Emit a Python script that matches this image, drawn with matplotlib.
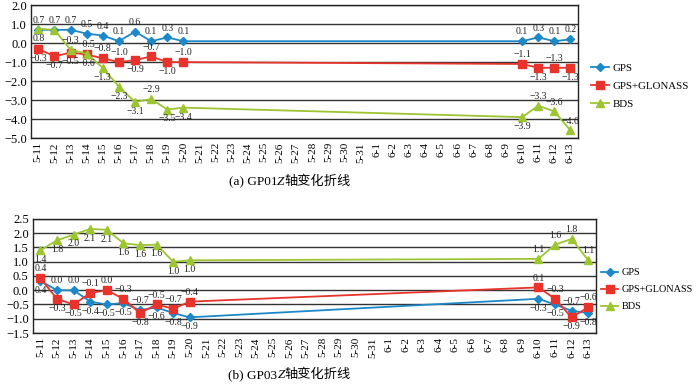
import matplotlib
matplotlib.use("Agg")
import matplotlib.pyplot as plt
from matplotlib.offsetbox import TextArea, HPacker, AnchoredOffsetbox
import numpy as np

plt.rcParams['font.family'] = ['Liberation Serif', 'Noto Sans CJK SC']

dates = ['5-%d' % d for d in range(11, 32)] + ['6-%d' % d for d in range(1, 14)]
N = None

# (a) GP01 Z
gps_a = [0.7, 0.7, 0.7, 0.5, 0.4, 0.1, 0.6, 0.1, 0.3, 0.1] + [N] * 20 + [0.1, 0.3, 0.1, 0.2]
glo_a = [-0.3, -0.7, -0.5, -0.6, -0.8, -1.0, -0.9, -0.7, -1.0, -1.0] + [N] * 20 + [-1.1, -1.3, -1.3, -1.3]
bds_a = [0.75, 0.7, -0.35, -0.55, -1.3, -2.3, -3.1, -2.95, -3.5, -3.4] + [N] * 20 + [-3.9, -3.3, -3.6, -4.6]
lab_bds_a = ['0.8', '', '−0.3', '−0.5', '−1.3', '−2.3', '−3.1', '−2.9', '−3.5', '−3.4',
             '−3.9', '−3.3', '−3.6', '−4.6']

# (b) GP03 Z
gps_b = [0.33, 0.0, 0.0, -0.4, -0.5, -0.45, -0.7, -0.6, -0.8, -0.95] + [N] * 20 + [-0.3, -0.5, -0.72, -0.8]
glo_b = [0.42, -0.3, -0.5, -0.1, 0.0, -0.3, -0.8, -0.5, -0.65, -0.4] + [N] * 20 + [0.1, -0.3, -0.95, -0.6]
bds_b = [1.4, 1.75, 1.95, 2.15, 2.12, 1.65, 1.58, 1.6, 1.0, 1.05] + [N] * 20 + [1.1, 1.6, 1.8, 1.05]
lab_gps_b = ['0.4', '0.0', '0.0', '−0.4', '−0.5', '−0.5', '−0.7', '−0.6', '−0.8', '−0.9',
             '−0.3', '−0.5', '−0.7', '−0.8']
lab_bds_b = ['1.4', '1.8', '2.0', '2.1', '2.1', '1.6', '1.6', '1.6', '1.0', '1.0',
             '1.1', '1.6', '1.8', '1.1']

# label placement: +1 above, -1 below
pos_gps_a = [1] * 14
pos_glo_a = [-1, -1, -1, -1, 1, 1, -1, 1, -1, 1, 1, -1, 1, -1]
pos_bds_a = [-1, 1, 1, 1, -1, -1, -1, 1, -1, -1, -1, 1, 1, 1]
pos_gps_b = [-1, 1, 1, -1, -1, -1, 1, -1, -1, -1, -1, -1, 1, -1]
pos_glo_b = [1, -1, -1, 1, 1, 1, -1, 1, 1, 1, 1, 1, -1, 1]
pos_bds_b = [-1, -1, -1, -1, -1, -1, -1, -1, -1, -1, 1, 1, 1, 1]

blue = '#1c88c8'
red = '#e8332c'
green = '#9cc531'


def fmt(v):
    return ('%.1f' % v).replace('-', '−')


def draw(ax, vals, color, marker, ms, label, pos, labels=None):
    x = [i for i, v in enumerate(vals) if v is not None]
    y = [v for v in vals if v is not None]
    ax.plot(x, y, color=color, marker=marker, ms=ms, lw=1.3, label=label, zorder=3)
    for k, (xi, yi) in enumerate(zip(x, y)):
        t = labels[k] if labels else fmt(yi)
        if not t:
            continue
        off = 3.5 if pos[k] > 0 else -3.5
        ax.annotate(t, (xi, yi), xytext=(0, off), textcoords='offset points',
                    ha='center', va='bottom' if pos[k] > 0 else 'top',
                    fontsize=7, color='#222222', zorder=4)


def style(ax, lo, hi, step, leg_x, leg_y, leg_fs):
    ax.set_xlim(-0.45, len(dates) - 0.55)
    ax.set_ylim(lo, hi)
    ticks = np.arange(lo, hi + step / 2, step)
    ax.set_yticks(ticks)
    ax.set_yticklabels([fmt(t) for t in ticks], fontsize=9)
    ax.set_xticks(range(len(dates)))
    ax.set_xticklabels(dates, rotation=90, fontsize=8)
    ax.tick_params(length=0, pad=3)
    ax.grid(axis='y', color='#333333', lw=1)
    ax.set_axisbelow(True)
    for s in ax.spines.values():
        s.set_color('#222222')
        s.set_linewidth(1)
    ax.legend(loc='center left', bbox_to_anchor=(leg_x, leg_y), frameon=False,
              fontsize=leg_fs, handlelength=1.6, handletextpad=0.35, labelspacing=0.75,
              borderaxespad=0, borderpad=0)


def caption(fig, ax, tag, x, y):
    parts = [TextArea('(%s) GP0%s' % tag, textprops=dict(fontsize=9.5)),
             TextArea('Z', textprops=dict(fontsize=9.5, style='italic')),
             TextArea('轴变化折线', textprops=dict(fontsize=9.5))]
    box = HPacker(children=parts, pad=0, sep=0, align='baseline')
    anc = AnchoredOffsetbox(loc='center', child=box, frameon=False, pad=0,
                            bbox_to_anchor=(x, y), bbox_transform=fig.transFigure,
                            borderpad=0)
    ax.add_artist(anc)


fig = plt.figure(figsize=(7, 3.84), dpi=100)

ax1 = fig.add_axes([0.0443, 0.6406, 0.781, 0.346])
draw(ax1, gps_a, blue, 'D', 4, 'GPS', pos_gps_a)
draw(ax1, glo_a, red, 's', 6, 'GPS+GLONASS', pos_glo_a)
draw(ax1, bds_a, green, '^', 6, 'BDS', pos_bds_a, lab_bds_a)
style(ax1, -5.0, 2.0, 1.0, 1.025, 0.39, 7.8)
caption(fig, ax1, ('a', '1'), 0.414, 0.526)

ax2 = fig.add_axes([0.047, 0.1328, 0.804, 0.297])
draw(ax2, gps_b, blue, 'D', 4, 'GPS', pos_gps_b, lab_gps_b)
draw(ax2, glo_b, red, 's', 6, 'GPS+GLONASS', pos_glo_b)
draw(ax2, bds_b, green, '^', 6, 'BDS', pos_bds_b, lab_bds_b)
style(ax2, -1.5, 2.5, 0.5, 1.01, 0.38, 7.4)
caption(fig, ax2, ('b', '3'), 0.414, 0.024)

fig.savefig('out.png', dpi=100)
